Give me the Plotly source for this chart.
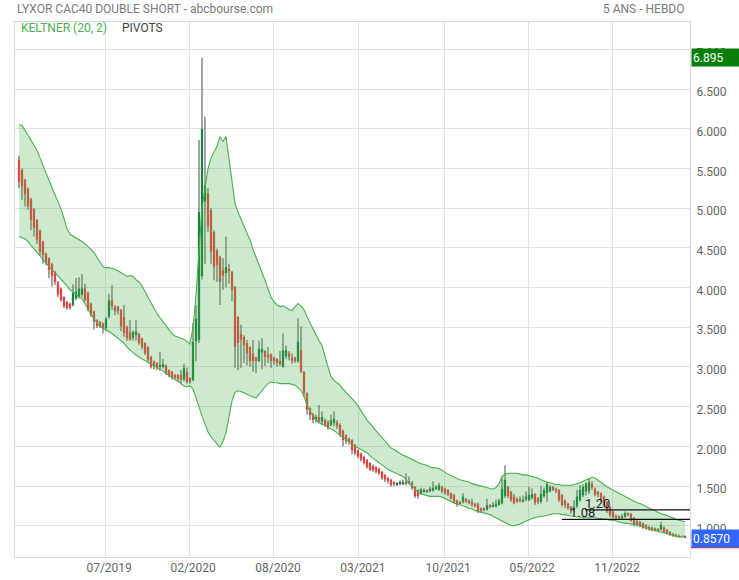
import plotly.graph_objects as go

# ---------------- data (weekly candles) ----------------
opens = [5.61,5.48,5.36,5.25,5.12,4.99,4.85,4.72,4.58,4.43,4.37,4.30,4.20,4.07,3.99,3.88,3.82,3.80,3.78,3.86,
         3.88,3.91,3.99,3.93,3.80,3.70,3.59,3.57,3.55,3.49,3.63,3.84,3.76,3.76,3.72,3.63,3.51,3.44,3.36,3.40,
         3.42,3.36,3.30,3.25,3.13,3.07,3.05,3.00,3.00,3.02,2.96,2.94,2.90,2.90,2.90,2.84,2.94,2.86,2.83,3.32,
         3.34,4.14,5.08,5.19,4.98,4.70,4.47,4.39,4.22,4.18,4.24,4.20,4.01,3.63,3.42,3.38,3.30,3.25,3.17,3.12,
         3.07,3.18,3.20,3.16,3.16,3.12,3.10,3.08,3.00,3.13,3.18,3.12,3.12,3.07,3.21,2.94,2.67,2.48,2.41,2.33,
         2.37,2.31,2.33,2.31,2.27,2.29,2.31,2.27,2.20,2.14,2.10,2.08,2.02,1.95,1.91,1.87,1.83,1.79,1.76,1.74,
         1.72,1.68,1.64,1.60,1.58,1.55,1.52,1.53,1.52,1.55,1.53,1.55,1.49,1.45,1.41,1.43,1.45,1.43,1.44,1.46,
         1.45,1.49,1.47,1.45,1.41,1.39,1.32,1.30,1.30,1.34,1.32,1.30,1.28,1.28,1.22,1.22,1.20,1.26,1.24,1.24,
         1.26,1.28,1.37,1.49,1.43,1.37,1.34,1.34,1.30,1.33,1.32,1.35,1.40,1.35,1.30,1.37,1.41,1.43,1.49,1.47,
         1.45,1.39,1.32,1.28,1.24,1.20,1.24,1.32,1.38,1.43,1.43,1.53,1.47,1.43,1.41,1.37,1.30,1.24,1.18,1.13,
         1.12,1.09,1.11,1.16,1.15,1.10,1.06,1.05,1.03,1.01,0.99,0.98,0.97,0.96,0.95,0.98,0.95,0.92,0.90,0.89,
         0.86,0.87,0.865]
highs = [5.66,5.50,5.37,5.26,5.13,5.00,4.86,4.73,4.59,4.44,4.38,4.31,4.21,4.08,4.00,3.89,3.83,3.81,4.04,4.12,
         4.13,4.17,4.05,3.95,3.81,3.71,3.60,3.58,3.56,3.63,3.92,4.03,3.78,3.77,3.73,3.78,3.52,3.59,3.46,3.59,
         3.43,3.37,3.31,3.26,3.14,3.08,3.06,3.19,3.10,3.03,2.97,2.95,2.91,2.91,2.96,3.04,2.99,2.87,3.55,3.78,
         5.86,6.895,6.15,5.25,5.00,4.72,4.49,4.40,4.37,4.64,4.30,4.21,4.02,3.64,3.53,3.40,3.34,3.26,3.34,3.13,
         3.33,3.36,3.21,3.25,3.17,3.13,3.11,3.20,3.42,3.27,3.20,3.17,3.13,3.61,3.51,2.95,2.68,2.49,2.42,2.40,
         2.52,2.44,2.35,2.33,2.40,2.44,2.33,2.29,2.21,2.15,2.11,2.09,2.03,1.96,1.92,1.88,1.84,1.80,1.77,1.75,
         1.73,1.69,1.65,1.61,1.59,1.56,1.55,1.57,1.58,1.66,1.62,1.56,1.50,1.46,1.48,1.47,1.46,1.49,1.56,1.51,
         1.54,1.50,1.48,1.46,1.42,1.40,1.33,1.31,1.41,1.35,1.33,1.34,1.29,1.29,1.23,1.23,1.34,1.27,1.30,1.33,
         1.34,1.62,1.76,1.50,1.44,1.40,1.36,1.37,1.38,1.43,1.49,1.47,1.41,1.36,1.50,1.48,1.55,1.51,1.50,1.48,
         1.46,1.40,1.33,1.29,1.25,1.32,1.45,1.51,1.52,1.55,1.60,1.56,1.48,1.44,1.42,1.38,1.31,1.25,1.19,1.14,
         1.13,1.15,1.18,1.17,1.16,1.11,1.07,1.06,1.04,1.02,1.00,0.99,0.98,0.97,1.05,0.99,0.96,0.93,0.91,0.90,
         0.89,0.88,0.88]
lows = [5.25,5.10,5.02,4.98,4.72,4.64,4.55,4.40,4.30,4.28,4.12,4.01,4.03,3.88,3.82,3.74,3.72,3.72,3.76,3.84,
        3.86,3.88,3.82,3.70,3.63,3.47,3.49,3.49,3.42,3.45,3.61,3.72,3.65,3.66,3.45,3.38,3.33,3.33,3.33,3.33,
        3.28,3.22,3.15,3.05,2.98,2.97,2.96,2.95,2.98,2.90,2.87,2.84,2.84,2.82,2.79,2.82,2.79,2.79,2.82,3.07,
        3.30,4.10,4.30,4.70,4.30,4.09,4.07,3.78,3.97,4.00,4.05,3.83,2.99,2.96,2.99,3.05,3.02,3.00,2.94,2.92,
        3.06,2.97,3.01,3.05,2.99,3.03,3.00,3.01,2.99,3.10,3.08,3.04,3.05,3.05,2.92,2.62,2.40,2.33,2.29,2.30,
        2.29,2.27,2.25,2.21,2.25,2.25,2.22,2.12,2.00,2.03,2.02,1.90,1.89,1.85,1.81,1.77,1.72,1.69,1.68,1.66,
        1.64,1.58,1.55,1.53,1.49,1.50,1.50,1.51,1.51,1.51,1.52,1.45,1.35,1.34,1.39,1.41,1.41,1.42,1.43,1.45,
        1.44,1.41,1.39,1.37,1.33,1.28,1.24,1.27,1.28,1.29,1.27,1.24,1.23,1.16,1.16,1.18,1.19,1.22,1.23,1.23,
        1.25,1.27,1.35,1.35,1.30,1.27,1.29,1.29,1.29,1.31,1.31,1.33,1.26,1.27,1.28,1.35,1.30,1.42,1.44,1.41,
        1.30,1.24,1.22,1.20,1.15,1.17,1.22,1.30,1.36,1.38,1.40,1.45,1.37,1.36,1.30,1.24,1.16,1.11,1.09,1.08,
        1.08,1.08,1.10,1.12,1.05,0.99,0.99,0.98,0.96,0.95,0.94,0.93,0.93,0.92,0.94,0.91,0.89,0.87,0.86,0.855,
        0.85,0.855,0.85]
closes = [5.33,5.27,5.17,5.02,4.85,4.75,4.60,4.45,4.41,4.31,4.22,4.14,4.07,3.91,3.84,3.76,3.74,3.74,3.93,3.95,
          3.99,3.99,3.84,3.72,3.65,3.57,3.51,3.51,3.49,3.61,3.84,3.76,3.70,3.70,3.51,3.42,3.36,3.34,3.44,3.45,
          3.30,3.25,3.17,3.09,3.00,3.00,2.98,3.02,3.04,2.92,2.88,2.86,2.86,2.84,2.84,2.99,2.81,2.81,3.32,3.61,
          4.95,6.00,5.29,4.77,4.45,4.26,4.28,4.07,4.15,4.26,4.20,3.97,3.25,3.30,3.34,3.27,3.17,3.07,3.07,3.07,
          3.23,3.23,3.12,3.12,3.07,3.07,3.05,3.03,3.21,3.21,3.12,3.07,3.07,3.32,2.94,2.67,2.46,2.39,2.33,2.37,
          2.31,2.37,2.27,2.23,2.33,2.35,2.25,2.14,2.08,2.06,2.05,1.95,1.91,1.87,1.83,1.79,1.74,1.70,1.70,1.68,
          1.66,1.60,1.58,1.56,1.51,1.52,1.54,1.54,1.55,1.53,1.56,1.47,1.37,1.37,1.46,1.45,1.43,1.47,1.48,1.49,
          1.51,1.43,1.41,1.39,1.34,1.30,1.26,1.28,1.37,1.30,1.28,1.26,1.24,1.18,1.18,1.20,1.26,1.23,1.26,1.28,
          1.32,1.47,1.58,1.37,1.32,1.28,1.30,1.31,1.33,1.37,1.39,1.40,1.28,1.30,1.40,1.45,1.53,1.49,1.45,1.43,
          1.32,1.26,1.26,1.22,1.18,1.24,1.37,1.45,1.49,1.53,1.55,1.47,1.39,1.39,1.32,1.26,1.18,1.13,1.11,1.10,
          1.09,1.12,1.16,1.13,1.06,1.01,1.01,0.99,0.97,0.96,0.95,0.94,0.94,0.93,1.01,0.92,0.90,0.88,0.87,0.86,
          0.87,0.86,0.857]
keltner_upper = [6.05,6.04,5.98,5.92,5.86,5.80,5.73,5.63,5.53,5.43,5.35,5.26,5.17,5.08,4.99,4.87,4.74,4.67,4.65,4.63,
                 4.61,4.58,4.55,4.52,4.48,4.44,4.38,4.31,4.26,4.25,4.25,4.24,4.23,4.21,4.19,4.16,4.14,4.15,4.14,4.10,
                 4.07,4.02,3.95,3.88,3.80,3.73,3.67,3.62,3.57,3.51,3.46,3.42,3.39,3.37,3.36,3.35,3.32,3.29,3.50,3.90,
                 4.45,5.00,5.25,5.50,5.63,5.70,5.78,5.90,5.84,5.90,5.62,5.30,5.06,4.95,4.86,4.78,4.70,4.60,4.48,4.39,
                 4.29,4.19,4.09,3.98,3.88,3.82,3.78,3.76,3.77,3.75,3.72,3.71,3.75,3.80,3.77,3.72,3.63,3.55,3.48,3.40,
                 3.33,3.27,3.12,3.00,2.88,2.83,2.80,2.77,2.72,2.68,2.65,2.60,2.56,2.51,2.45,2.38,2.33,2.29,2.24,2.19,
                 2.15,2.11,2.07,2.03,1.98,1.96,1.93,1.91,1.89,1.87,1.85,1.83,1.81,1.79,1.78,1.77,1.76,1.74,1.73,1.73,
                 1.72,1.70,1.67,1.65,1.63,1.61,1.59,1.58,1.57,1.56,1.55,1.53,1.52,1.51,1.50,1.49,1.48,1.47,1.46,1.48,
                 1.53,1.62,1.65,1.66,1.66,1.66,1.66,1.65,1.64,1.64,1.63,1.62,1.61,1.60,1.58,1.56,1.55,1.54,1.53,1.52,
                 1.52,1.51,1.51,1.51,1.51,1.52,1.53,1.54,1.56,1.58,1.60,1.61,1.60,1.57,1.55,1.52,1.49,1.47,1.45,1.43,
                 1.40,1.38,1.36,1.34,1.32,1.31,1.29,1.28,1.26,1.24,1.22,1.20,1.18,1.16,1.15,1.14,1.13,1.11,1.10,1.08,
                 1.07,1.06,1.05]
keltner_lower = [4.64,4.63,4.61,4.58,4.53,4.49,4.45,4.40,4.35,4.31,4.26,4.22,4.18,4.14,4.10,4.06,4.02,3.97,3.94,3.90,
                 3.88,3.86,3.80,3.73,3.66,3.60,3.55,3.51,3.49,3.47,3.45,3.42,3.39,3.36,3.33,3.30,3.25,3.21,3.18,3.15,
                 3.12,3.10,3.08,3.06,3.04,3.02,2.99,2.97,2.95,2.92,2.89,2.87,2.84,2.82,2.79,2.76,2.75,2.76,2.72,2.62,
                 2.50,2.38,2.27,2.18,2.12,2.07,2.03,1.99,2.06,2.17,2.38,2.57,2.68,2.70,2.69,2.67,2.65,2.63,2.62,2.61,
                 2.65,2.70,2.75,2.79,2.81,2.80,2.80,2.79,2.79,2.79,2.79,2.78,2.77,2.74,2.70,2.63,2.52,2.44,2.39,2.33,
                 2.30,2.28,2.27,2.25,2.23,2.20,2.17,2.14,2.11,2.08,2.05,2.02,2.00,1.98,1.96,1.95,1.92,1.88,1.85,1.82,
                 1.79,1.76,1.73,1.71,1.69,1.67,1.65,1.64,1.62,1.58,1.53,1.50,1.46,1.42,1.40,1.39,1.38,1.37,1.37,1.37,
                 1.37,1.36,1.34,1.32,1.30,1.29,1.27,1.26,1.25,1.24,1.22,1.21,1.19,1.18,1.17,1.16,1.15,1.14,1.12,1.10,
                 1.08,1.06,1.03,1.01,1.00,1.00,1.01,1.02,1.04,1.06,1.08,1.09,1.10,1.11,1.12,1.12,1.13,1.14,1.15,1.15,
                 1.15,1.14,1.14,1.13,1.12,1.12,1.11,1.11,1.10,1.10,1.10,1.10,1.10,1.09,1.09,1.08,1.08,1.07,1.07,1.06,
                 1.05,1.04,1.03,1.03,1.02,1.02,1.01,1.00,0.99,0.98,0.96,0.95,0.94,0.93,0.92,0.91,0.90,0.89,0.88,0.87,
                 0.86,0.86,0.85]

# x-axis labels (placed every ~28 weekly bars)
tick_labels = ["07/2019", "02/2020", "08/2020", "03/2021", "10/2021", "05/2022", "11/2022"]
tick_bars = [28.7, 56.7, 85.0, 113.3, 141.7, 169.7, 198.0]

y_ticks = [1.0, 1.5, 2.0, 2.5, 3.0, 3.5, 4.0, 4.5, 5.0, 5.5, 6.0, 6.5, 7.0]

pivot_levels = [1.20, 1.08]
pivot_start_bar = [188.7, 181.0]
pivot_label_bar = [188.0, 183.0]

last_close = 0.857
max_high = 6.895

# ---------------- build ----------------
N = len(closes)
bars = list(range(N))

UP = "#16823c"
DOWN = "#e8413e"
body_base = [min(o, c) for o, c in zip(opens, closes)]
body_h = [max(abs(c - o), 0.008) for o, c in zip(opens, closes)]
body_col = [UP if c >= o else DOWN for o, c in zip(opens, closes)]

wx, wy = [], []
for i, (o, h, l, c) in enumerate(zip(opens, highs, lows, closes)):
    lo_b, hi_b = min(o, c), max(o, c)
    wx += [i, i, None, i, i, None]
    wy += [l, lo_b, None, hi_b, h, None]

fig = go.Figure()
fig.add_trace(go.Scatter(x=wx, y=wy, mode="lines", line=dict(color="#4a4a4a", width=1),
                         hoverinfo="skip", showlegend=False))
fig.add_trace(go.Bar(x=bars, y=body_h, base=body_base, width=0.75,
                     marker=dict(color=body_col, line=dict(width=0)), showlegend=False))
fig.add_trace(go.Scatter(x=bars, y=keltner_upper, mode="lines",
                         line=dict(color="#4caf50", width=1.1), showlegend=False))
fig.add_trace(go.Scatter(x=bars, y=keltner_lower, mode="lines", fill="tonexty",
                         fillcolor="rgba(76,175,80,0.28)",
                         line=dict(color="#4caf50", width=1.1), showlegend=False))

PLOT_W = 739 - 15 - 49
PLOT_H = 580 - 22 - 23
x_lo, x_hi = -1.33, 223.67

shapes = []
for lvl, sb in zip(pivot_levels, pivot_start_bar):
    shapes.append(dict(type="line", xref="x", yref="y", x0=sb, x1=x_hi, y0=lvl, y1=lvl,
                       line=dict(color="#111111", width=1.2)))
shapes.append(dict(type="line", xref="paper", yref="paper", x0=1.0015, x1=1 + 49 / PLOT_W,
                   y0=(557 - 547.5) / PLOT_H, y1=(557 - 547.5) / PLOT_H,
                   line=dict(color="#d32f2f", width=1.5)))

font = "Roboto, Arial, sans-serif"
ann = [
    dict(text="LYXOR CAC40 DOUBLE SHORT - abcbourse.com", xref="paper", yref="paper",
         x=0, y=1 + 13 / PLOT_H, xanchor="left", yanchor="middle", showarrow=False,
         font=dict(family=font, size=12, color="#7a7a7a")),
    dict(text="5 ANS - HEBDO", xref="paper", yref="paper", x=1 - 3 / PLOT_W, y=1 + 13 / PLOT_H,
         xanchor="right", yanchor="middle", showarrow=False,
         font=dict(family=font, size=12, color="#7a7a7a")),
    dict(text="KELTNER (20, 2)", xref="paper", yref="paper", x=4 / PLOT_W, y=1 - 6 / PLOT_H,
         xanchor="left", yanchor="middle", showarrow=False,
         font=dict(family=font, size=12, color="#4caf50")),
    dict(text="PIVOTS", xref="paper", yref="paper", x=(120 - 15) / PLOT_W, y=1 - 6 / PLOT_H,
         xanchor="left", yanchor="middle", showarrow=False,
         font=dict(family=font, size=12, color="#444444")),
    dict(text=f"{max_high:.3f}", xref="paper", yref="y", x=1, xshift=1, y=max_high,
         xanchor="left", yanchor="middle", showarrow=False, bgcolor="#087f08",
         width=46, height=15, align="left", borderpad=1,
         font=dict(family=font, size=12, color="white")),
    dict(text=f"{last_close:.4f}", xref="paper", yref="y", x=1, xshift=1, y=0.839,
         xanchor="left", yanchor="middle", showarrow=False, bgcolor="#3366ff",
         width=46, height=15, align="left", borderpad=1,
         font=dict(family=font, size=12, color="white")),
]
for lvl, lb in zip(pivot_levels, pivot_label_bar):
    ann.append(dict(text=f"{lvl:.2f}", xref="x", yref="y", x=lb, y=lvl, xanchor="left",
                    yanchor="bottom", yshift=-3, showarrow=False,
                    font=dict(family=font, size=13, color="#222222")))

fig.update_layout(
    width=739, height=580,
    margin=dict(l=15, r=49, t=22, b=23, autoexpand=False),
    paper_bgcolor="white", plot_bgcolor="white",
    showlegend=False, hovermode=False, barmode="overlay",
    font=dict(family=font, size=12, color="#666666"),
    shapes=shapes, annotations=ann,
    xaxis=dict(range=[x_lo, x_hi], tickmode="array", tickvals=tick_bars, ticktext=tick_labels,
               showgrid=True, gridcolor="#e2e2e2", gridwidth=1, zeroline=False,
               showline=True, linecolor="#d9d9d9", mirror=True, ticks="",
               ticklabelshift=4, automargin=False,
               tickfont=dict(family=font, size=12, color="#666666")),
    yaxis=dict(range=[0.606, 7.344], side="right", tickmode="array", tickvals=y_ticks,
               ticktext=[f"{v:.3f}" for v in y_ticks],
               showgrid=True, gridcolor="#e2e2e2", gridwidth=1, zeroline=False,
               showline=True, linecolor="#d9d9d9", mirror=True, ticks="",
               ticklabelshift=3, ticklabelstandoff=3, automargin=False,
               tickfont=dict(family=font, size=12, color="#666666")),
)

fig.write_html("out.html", config={"displayModeBar": False},
               post_script="document.body.style.margin='0px';document.body.style.padding='0px';")
